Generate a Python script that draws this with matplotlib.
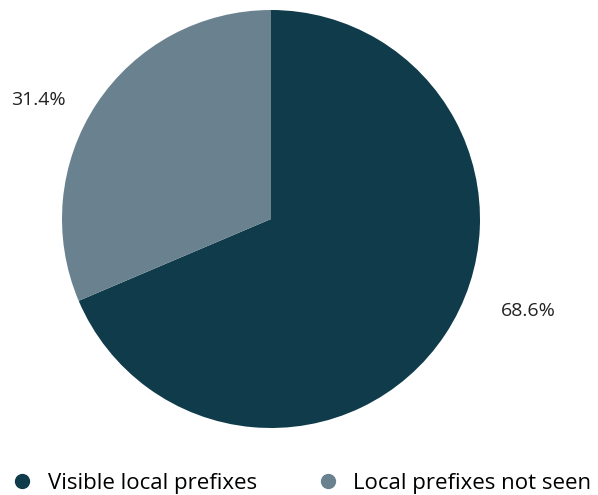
import matplotlib.pyplot as plt
from matplotlib.lines import Line2D

labels = ["Visible local prefixes", "Local prefixes not seen"]
values = [68.6, 31.4]
colors = ["#0f3b4b", "#6a8290"]

plt.rcParams['font.family'] = ['Open Sans', 'DejaVu Sans']

fig = plt.figure(figsize=(5.98, 4.95), dpi=100)
ax = fig.add_axes([62/598, 67/495, 418/598, 418/495])
ax.pie(values, colors=colors, startangle=90, counterclock=False, radius=1,
       wedgeprops=dict(linewidth=0))
ax.set_xlim(-1, 1)
ax.set_ylim(-1, 1)
ax.set_aspect('equal')
ax.axis('off')

# percent labels
ax.text(-1.115, 0.57, f"{values[1]}%", ha='center', va='center', fontsize=14, color='#222222')
ax.text(1.23, -0.44, f"{values[0]}%", ha='center', va='center', fontsize=14, color='#222222')

handles = [Line2D([], [], marker='o', linestyle='', markersize=10, color=c) for c in colors]
fig.legend(handles, labels, loc='center left', bbox_to_anchor=(11/598, 1 - 483/495), ncol=2,
           frameon=False, fontsize=16, handletextpad=0.65, columnspacing=2.7,
           handlelength=1.0, borderpad=0, borderaxespad=0)

fig.savefig("out.png", dpi=100)
